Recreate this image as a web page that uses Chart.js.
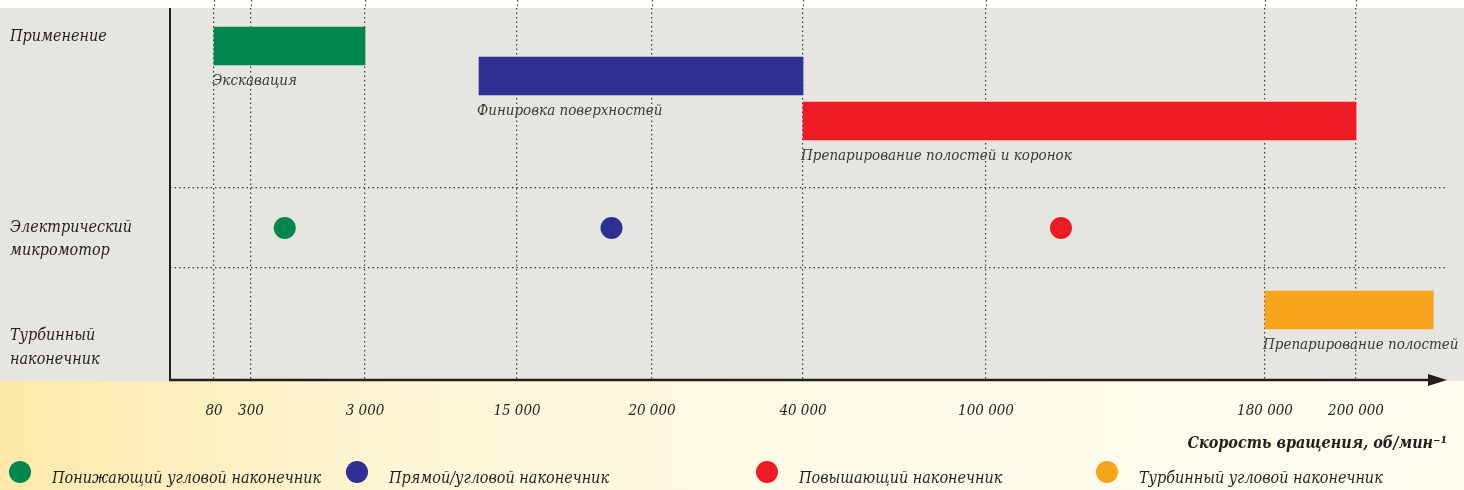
<!DOCTYPE html>
<html>
<head>
<meta charset="utf-8">
<script src="https://cdn.jsdelivr.net/npm/chart.js@4"></script>
<style>
  body { margin: 0; background: #fff; }
  #wrap { width: 1464px; height: 490px; }
</style>
</head>
<body>
<div id="wrap"><canvas id="speedChart"></canvas></div>
<script>
'use strict';

// schematic speed axis: tick values, their labels and where they sit on the (uneven) axis
var speedTicks = [80, 300, 3000, 15000, 20000, 40000, 100000, 180000, 200000];
var tickLabels = ['80', '300', '3 000', '15 000', '20 000', '40 000', '100 000', '180 000', '200 000'];
var tickSlots = [44, 81, 195, 347, 482, 633, 816, 1095, 1186];

// application ranges, об/мин
var barNames = ['Экскавация', 'Финировка поверхностей', 'Препарирование полостей и коронок', 'Препарирование полостей'];
var barFrom = [80, 12000, 40000, 180000];
var barTo = [3000, 40000, 200000, 217000];
var barLane = [38, 68, 113, 302];
var barColors = ['#00874f', '#2e3192', '#ed1c24', '#f7a51c'];

// electric micromotor handpieces, typical speed
var dotSpeeds = [1100, 18500, 121500];
var dotLane = [220, 220, 220];
var dotColors = ['#00874f', '#2e3192', '#ed1c24'];

var rowNames = [['Применение'], ['Электрический', 'микромотор'], ['Турбинный', 'наконечник']];
var rowEdges = [180, 260];

var legendNames = ['Понижающий угловой наконечник', 'Прямой/угловой наконечник', 'Повышающий наконечник', 'Турбинный угловой наконечник'];
var legendColors = ['#00874f', '#2e3192', '#ed1c24', '#f7a51c'];

var axisTitle = 'Скорость вращения, об/мин⁻¹';

var FONT = '"DejaVu Serif Condensed", "DejaVu Serif", serif';
var INK = '#231f20';

// speed -> position on the schematic axis (piecewise between the printed ticks)
var toSlot = function(speed) {
  var n = speedTicks.length;
  var i = 0;
  while (i < n - 2 && speed > speedTicks[i + 1]) {
    i++;
  }
  var t = (speed - speedTicks[i]) / (speedTicks[i + 1] - speedTicks[i]);
  return tickSlots[i] + t * (tickSlots[i + 1] - tickSlots[i]);
};

var barData = [];
for (var i = 0; i < barNames.length; i++) {
  barData.push({ x: [toSlot(barFrom[i]), toSlot(barTo[i])], y: barLane[i] });
}
var dotData = [];
for (var j = 0; j < dotSpeeds.length; j++) {
  dotData.push({ x: toSlot(dotSpeeds[j]), y: dotLane[j] });
}

var schemePlugin = {
  id: 'scheme',
  beforeDraw: function(chart) {
    var c = chart.ctx;
    var area = chart.chartArea;
    c.save();
    c.fillStyle = '#ffffff';
    c.fillRect(0, 0, chart.width, chart.height);
    c.fillStyle = '#e6e5df';
    c.fillRect(0, area.top, chart.width, area.bottom - area.top + 1);
    var g = c.createLinearGradient(0, 0, chart.width, 0);
    g.addColorStop(0, '#fde9a8');
    g.addColorStop(0.12, '#fdefbf');
    g.addColorStop(0.3, '#fff7d9');
    g.addColorStop(0.6, '#fffbe9');
    g.addColorStop(1, '#fffcf0');
    c.fillStyle = g;
    c.fillRect(0, area.bottom + 1, chart.width, chart.height - area.bottom);
    // dotted tick lines run on into the white strip above
    var x = chart.scales.x;
    c.strokeStyle = '#3a3a3a';
    c.lineWidth = 1.2;
    c.setLineDash([1.5, 3]);
    x.ticks.forEach(function(t) {
      var px = Math.round(x.getPixelForValue(t.value)) + 0.5;
      c.beginPath();
      c.moveTo(px, 0);
      c.lineTo(px, area.top);
      c.stroke();
    });
    c.restore();
  },
  afterDatasetsDraw: function(chart) {
    var c = chart.ctx;
    var meta = chart.getDatasetMeta(0);
    c.save();
    c.font = 'italic 15px ' + FONT;
    c.fillStyle = '#3a3a3a';
    c.textAlign = 'left';
    c.textBaseline = 'alphabetic';
    meta.data.forEach(function(bar, k) {
      var left = Math.min(bar.base, bar.x);
      c.fillText(barNames[k], left - 2, bar.y + bar.height / 2 + 20);
    });
    c.restore();
  },
  afterDraw: function(chart) {
    var c = chart.ctx;
    var area = chart.chartArea;
    c.save();
    // axes
    c.strokeStyle = INK;
    c.lineWidth = 2;
    c.beginPath();
    c.moveTo(area.left, area.top);
    c.lineTo(area.left, area.bottom + 1);
    c.stroke();
    c.lineWidth = 2.5;
    c.beginPath();
    c.moveTo(area.left - 1, area.bottom);
    c.lineTo(area.right - 16, area.bottom);
    c.stroke();
    c.fillStyle = INK;
    c.beginPath();
    c.moveTo(area.right - 19, area.bottom - 6);
    c.lineTo(area.right, area.bottom);
    c.lineTo(area.right - 19, area.bottom + 6);
    c.closePath();
    c.fill();

    // row names
    var y = chart.scales.y;
    var rowBase = [[33], [44, 67], [72, 96]];
    var rowStart = [0, rowEdges[0], rowEdges[1]];
    c.font = 'italic 16px ' + FONT;
    c.fillStyle = INK;
    c.textAlign = 'left';
    c.textBaseline = 'alphabetic';
    rowNames.forEach(function(lines, r) {
      var top = y.getPixelForValue(rowStart[r]);
      lines.forEach(function(line, l) {
        c.fillText(line, 10, top + rowBase[r][l]);
      });
    });

    // axis title
    c.font = 'italic bold 16px ' + FONT;
    c.textAlign = 'right';
    c.fillText(axisTitle, area.right, 448);

    // legend
    var legendX = [20, 357, 767, 1107];
    legendNames.forEach(function(name, k) {
      c.fillStyle = legendColors[k];
      c.beginPath();
      c.arc(legendX[k], 472, 11, 0, Math.PI * 2);
      c.fill();
      c.fillStyle = INK;
      c.font = 'italic 16px ' + FONT;
      c.textAlign = 'left';
      c.fillText(name, legendX[k] + 32, 483);
    });
    c.restore();
  }
};

var ctx = document.getElementById('speedChart').getContext('2d');
var speedChart = new Chart(ctx, {
  type: 'scatter',
  data: {
    datasets: [{
      type: 'bar',
      label: 'Применение',
      indexAxis: 'y',
      data: barData,
      backgroundColor: barColors,
      borderWidth: 0,
      borderSkipped: false,
      barThickness: 38,
      order: 2,
    }, {
      type: 'scatter',
      label: 'Электрический микромотор',
      data: dotData,
      pointRadius: 11,
      pointHoverRadius: 11,
      pointBackgroundColor: dotColors,
      pointBorderWidth: 0,
      order: 1,
    }],
  },
  options: {
    responsive: true,
    maintainAspectRatio: false,
    animation: false,
    events: [],
    layout: { autoPadding: false, padding: { top: 8, right: 17, left: 0, bottom: 0 } },
    plugins: {
      legend: { display: false },
      tooltip: { enabled: false },
    },
    scales: {
      x: {
        type: 'linear',
        min: 0,
        max: 1277,
        offset: false,
        afterBuildTicks: function(scale) {
          scale.ticks = tickSlots.map(function(v) { return { value: v }; });
        },
        afterFit: function(scale) {
          scale.height = 110;
        },
        ticks: {
          autoSkip: false,
          maxRotation: 0,
          padding: 22,
          color: INK,
          font: { family: FONT, style: 'italic', size: 15 },
          callback: function(value, index) {
            return tickLabels[index];
          },
        },
        grid: {
          offset: false,
          drawTicks: false,
          color: '#3a3a3a',
          lineWidth: 1.2,
        },
        border: { display: false, dash: [1.5, 3] },
      },
      y: {
        type: 'linear',
        min: 0,
        max: 372,
        reverse: true,
        offset: false,
        afterBuildTicks: function(scale) {
          scale.ticks = rowEdges.map(function(v) { return { value: v }; });
        },
        afterFit: function(scale) {
          scale.width = 170;
        },
        ticks: { display: false },
        grid: {
          offset: false,
          drawTicks: false,
          color: '#3a3a3a',
          lineWidth: 1.2,
        },
        border: { display: false, dash: [1.5, 3] },
      },
    },
  },
  plugins: [schemePlugin],
});
</script>
</body>
</html>
